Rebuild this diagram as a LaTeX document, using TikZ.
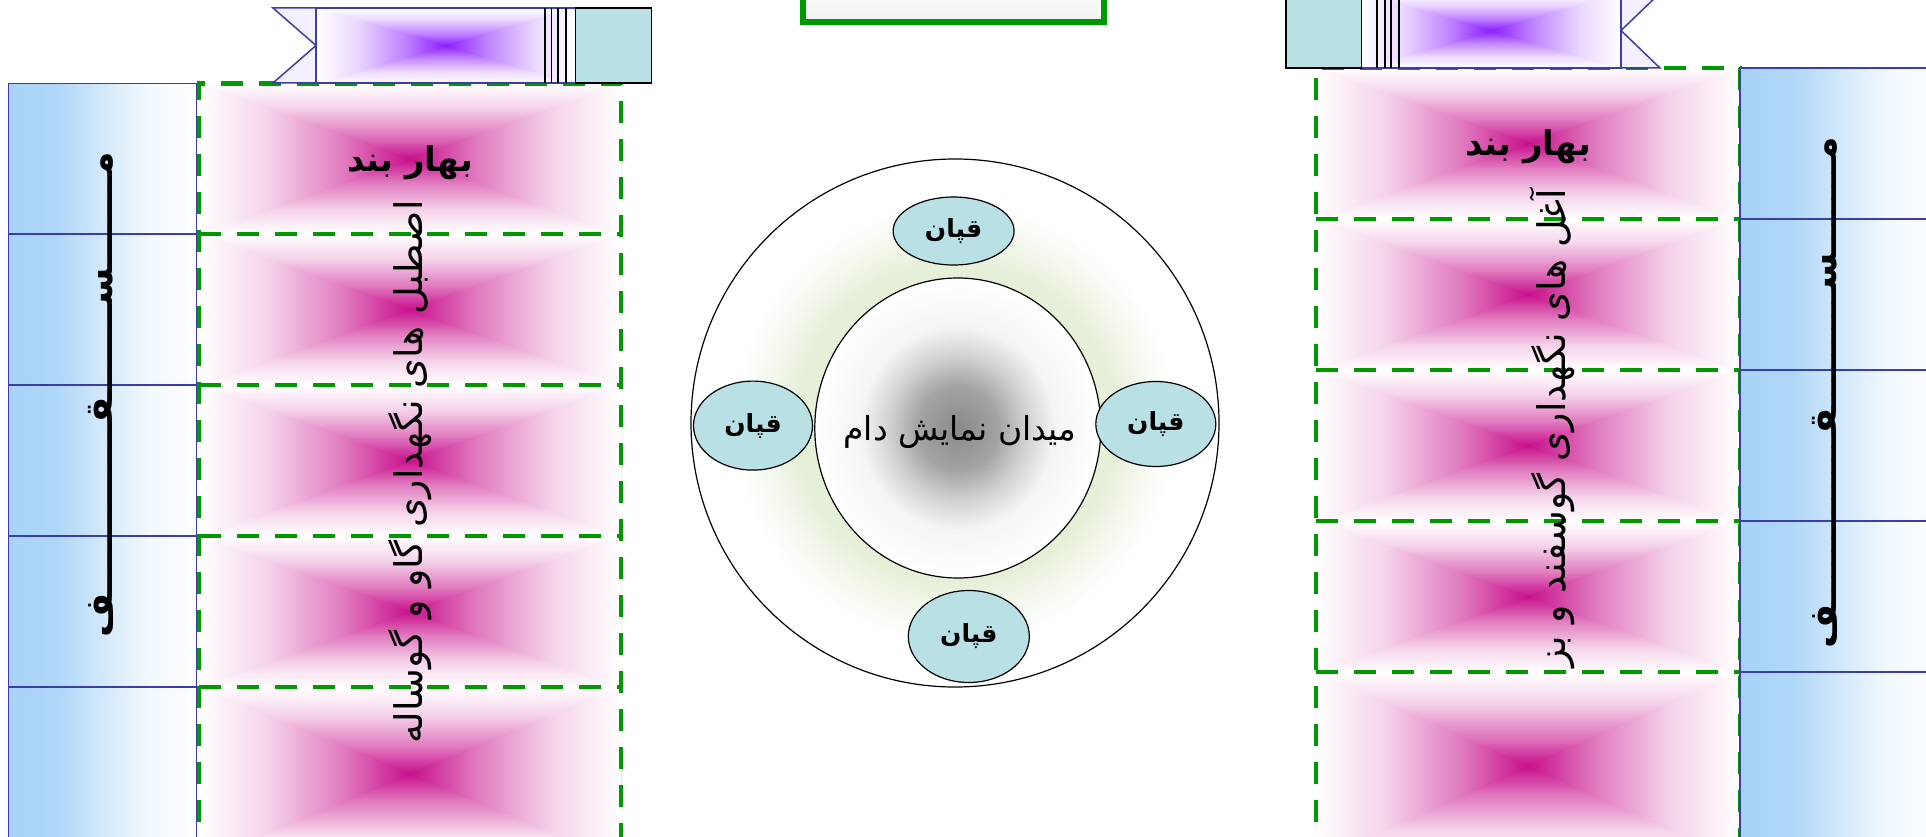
\documentclass[tikz,border=0pt]{standalone}
\usepackage{fontspec}
\usetikzlibrary{shapes.geometric}
\newfontfamily\arabicfont[Script=Arabic]{DejaVu Sans}
\TeXXeTstate=1
\definecolor{gdash}{RGB}{0,153,0}
\definecolor{bluebd}{RGB}{60,60,170}
\definecolor{blueL}{RGB}{168,211,247}
\definecolor{tealc}{RGB}{185,224,228}
\definecolor{magc}{RGB}{200,16,140}
\definecolor{purp}{RGB}{140,30,255}
\definecolor{ringg}{RGB}{230,239,216}
\definecolor{tailc}{RGB}{244,240,255}
\colorlet{rgc}{magc}
\pgfdeclareverticalshading[rgc]{rgv}{100bp}{color(0bp)=(white); color(25bp)=(white); color(33bp)=(rgc!18!white); color(42bp)=(rgc!55!white); color(50bp)=(rgc); color(58bp)=(rgc!55!white); color(67bp)=(rgc!18!white); color(75bp)=(white); color(100bp)=(white)}
\pgfdeclarehorizontalshading[rgc]{rgh}{100bp}{color(0bp)=(white); color(25bp)=(white); color(33bp)=(rgc!18!white); color(42bp)=(rgc!55!white); color(50bp)=(rgc); color(58bp)=(rgc!55!white); color(67bp)=(rgc!18!white); color(75bp)=(white); color(100bp)=(white)}
\pgfdeclarehorizontalshading{bluecol}{100bp}{color(0bp)=(blueL); color(25bp)=(blueL); color(38bp)=(blueL!92!white); color(52bp)=(blueL!45!white); color(62bp)=(blueL!15!white); color(75bp)=(white!97!blueL); color(100bp)=(white!97!blueL)}
\pgfdeclareradialshading{innerg}{\pgfpoint{0bp}{0bp}}{color(0bp)=(black!46); color(7bp)=(black!36); color(12bp)=(black!18); color(17bp)=(black!4); color(25bp)=(white); color(50bp)=(white)}
\pgfdeclareradialshading{outerg}{\pgfpoint{0bp}{0bp}}{color(0bp)=(white); color(12bp)=(ringg); color(15bp)=(ringg); color(18.5bp)=(ringg!35!white); color(21bp)=(white); color(50bp)=(white)}
\newcommand\rectgrad[5]{%
  \colorlet{rgc}{#5}%
  \pgfmathsetmacro\rgcx{(#1+#3)/2}%
  \pgfmathsetmacro\rgcy{(#2+#4)/2}%
  \shade[shading=rgv] (#1,#2) rectangle (#3,#4);
  \begin{scope}
    \clip (#1,#2) -- (\rgcx,\rgcy) -- (#1,#4) -- cycle (#3,#2) -- (\rgcx,\rgcy) -- (#3,#4) -- cycle;
    \shade[shading=rgh] (#1,#2) rectangle (#3,#4);
  \end{scope}}
\tikzset{
  cellbd/.style={draw=bluebd, line width=1.5pt},
  greencell/.style={draw=gdash, line width=4.5pt, dash pattern=on 22pt off 16pt},
  qapan/.style={ellipse, draw=black, line width=1.2pt, fill=tealc, inner sep=0pt, font=\arabicfont\bfseries\fontsize{25}{28}\selectfont},
  bandtxt/.style={font=\arabicfont\bfseries\fontsize{34}{40}\selectfont},
  longtxt/.style={rotate=90, font=\arabicfont\fontsize{38}{44}\selectfont},
  roofed/.style={rotate=90, anchor=base, font=\arabicfont\bfseries\fontsize{38}{44}\selectfont},
  bandline/.style={draw=black, line width=1.2pt}
}
\begin{document}
\begin{tikzpicture}[x=1pt,y=-1pt]
\useasboundingbox (0,0) rectangle (1926,837);
\clip (0,0) rectangle (1926,837);
\fill[white] (0,0) rectangle (1926,837);
% ---------- left blue column
\shade[shading=bluecol] (8.6,83.5) rectangle (196.5,860);
\foreach \ya/\yb in {83.5/234,234/385,385/536,536/687,687/860}
  \draw[cellbd] (8.6,\ya) rectangle (196.5,\yb);
% ---------- left green cells
\foreach \ya/\yb in {83.5/234,234/385,385/536,536/687,687/860}
  \rectgrad{199}{\ya}{621}{\yb}{magc};
\draw[greencell] (199,860) -- (199,83.5) -- (621,83.5) -- (621,860);
\foreach \ya in {234,385,536,687}
  \draw[greencell] (199,\ya) -- (621,\ya);
% ---------- right green cells
\foreach \ya/\yb in {68/219,219/370,370/521,521/672,672/860}
  \rectgrad{1316}{\ya}{1740}{\yb}{magc};
\draw[greencell] (1316,860) -- (1316,68) -- (1740,68) -- (1740,860);
\foreach \ya in {219,370,521,672}
  \draw[greencell] (1316,\ya) -- (1740,\ya);
% ---------- right blue column
\shade[shading=bluecol] (1740,68) rectangle (1940,860);
\foreach \ya/\yb in {68/219,219/370,370/521,521/672,672/860}
  \draw[cellbd] (1740,\ya) rectangle (1940,\yb);
% ---------- left banner
\fill[tailc] (273,8) -- (316,8) -- (316,83) -- (273,83) -- (316,45.5) -- cycle;
\draw[cellbd] (316,8) -- (273,8) -- (316,45.5) -- (273,83) -- (316,83);
\rectgrad{316}{8}{575.5}{83}{purp};
\draw[cellbd] (316,8) rectangle (575.5,83);
\foreach \lx in {545,551.5,558,566} \draw[bandline] (\lx,8) -- (\lx,83);
\draw[bandline, fill=tealc] (575.5,8) rectangle (651.7,83);
% ---------- right banner
\fill[tailc] (1660,-7) -- (1621,-7) -- (1621,68) -- (1660,68) -- (1621,30.5) -- cycle;
\draw[cellbd] (1621,-7) -- (1660,-7) -- (1621,30.5) -- (1660,68) -- (1621,68);
\rectgrad{1361.6}{-7}{1621}{68}{purp};
\draw[cellbd] (1361.6,-7) rectangle (1621,68);
\foreach \lx in {1377,1385,1391,1399} \draw[bandline] (\lx,-7) -- (\lx,68);
\draw[bandline, fill=tealc] (1286,-7) rectangle (1361.6,68);
% ---------- top box
\shade[top color=white, bottom color=black!5] (803,-20) rectangle (1104,22);
\draw[gdash, line width=6pt] (803,-20) -- (803,22) -- (1104,22) -- (1104,-20);
% ---------- circles
\shade[shading=outerg] (955,423) circle (264);
\draw[black, line width=1.2pt] (955,423) circle (264);
\shade[shading=innerg] (957.8,428) ellipse [x radius=143, y radius=150];
\draw[black, line width=1.2pt] (957.8,428) ellipse [x radius=143, y radius=150];
\node[font=\arabicfont\fontsize{33}{38}\selectfont] (arena) at (960,432) {\beginR میدان نمایش دام\endR};
\node[qapan, minimum width=121pt, minimum height=68pt] (q1) at (953.6,231) {\beginR قپان\endR};
\node[qapan, minimum width=119pt, minimum height=89pt] (q2) at (753,425.6) {\beginR قپان\endR};
\node[qapan, minimum width=120pt, minimum height=85pt] (q3) at (1155.8,424) {\beginR قپان\endR};
\node[qapan, minimum width=121pt, minimum height=92pt] (q4) at (968.8,636.5) {\beginR قپان\endR};
% ---------- texts
\node[bandtxt] (b1) at (410,163) {\beginR بهار بند\endR};
\node[bandtxt] (b2) at (1528,147) {\beginR بهار بند\endR};
\node[longtxt] (t1) at (410,472) {\beginR اصطبل های نگهداری گاو و گوساله\endR};
\node[longtxt] (t2) at (1552,428) {\beginR آغل های نگهداری گوسفند و بز\endR};
\node[roofed] (r1) at (112,395) {\beginR مـــــــســـــــقـــــــــــــف\endR};
\node[roofed] (r2) at (1836,393) {\beginR مـــــــســـــــــقـــــــــــــف\endR};
\end{tikzpicture}
\end{document}
